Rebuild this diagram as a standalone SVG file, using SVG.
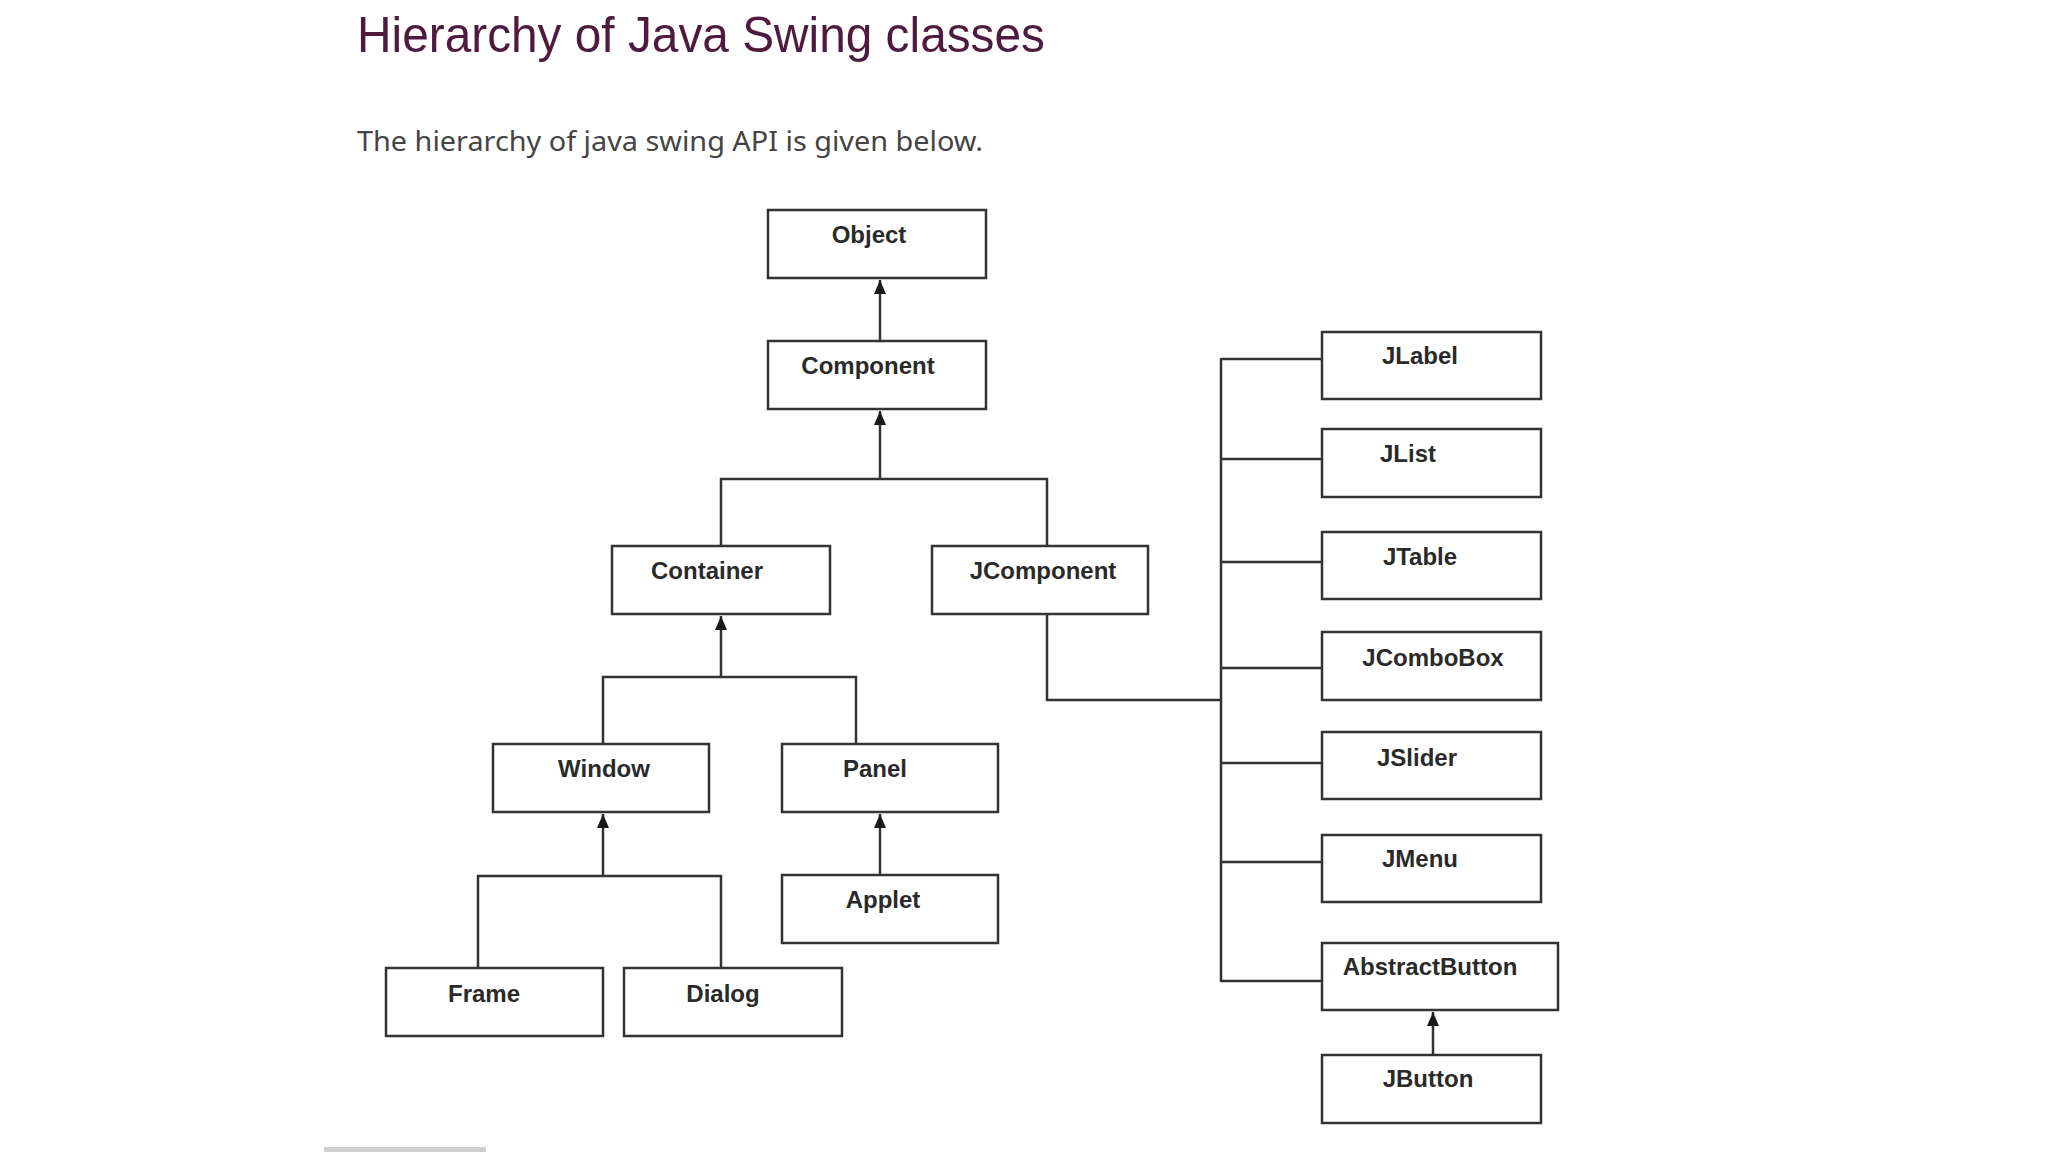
<svg xmlns="http://www.w3.org/2000/svg" width="2048" height="1152" viewBox="0 0 2048 1152">
<style>
.box{fill:#ffffff;stroke:#333333;stroke-width:2.5}
.lbl{font-family:"Liberation Sans",Arial,sans-serif;font-weight:bold;font-size:24px;fill:#2a2a2a;text-anchor:middle}
.ln{fill:none;stroke:#333333;stroke-width:2.5}
.title{font-family:"Liberation Sans",Arial,sans-serif;font-size:50px;fill:#4e1a3e}
.sub{font-family:"Noto Sans","Open Sans",sans-serif;font-size:27px;fill:#444444}
</style>
<defs>
<marker id="arr" markerWidth="14" markerHeight="12" refX="14" refY="6" orient="auto" markerUnits="userSpaceOnUse" viewBox="0 0 14 12">
<path d="M0,0 L14,6 L0,12 Z" fill="#1a1a1a"/>
</marker>
</defs>
<rect x="0" y="0" width="2048" height="1152" fill="#ffffff"/>
<text class="title" x="357" y="52" textLength="688" lengthAdjust="spacingAndGlyphs">Hierarchy of Java Swing classes</text>
<text class="sub" x="357" y="151" textLength="626" lengthAdjust="spacingAndGlyphs">The hierarchy of java swing API is given below.</text>

<g id="connectors">
<line class="ln" x1="880" y1="341" x2="880" y2="280" marker-end="url(#arr)"/>
<polyline class="ln" points="721,546 721,479 1047,479 1047,546"/>
<line class="ln" x1="880" y1="479" x2="880" y2="411" marker-end="url(#arr)"/>
<polyline class="ln" points="603,744 603,677 856,677 856,744"/>
<line class="ln" x1="721" y1="677" x2="721" y2="616" marker-end="url(#arr)"/>
<polyline class="ln" points="478,968 478,876 721,876 721,968"/>
<line class="ln" x1="603" y1="876" x2="603" y2="814" marker-end="url(#arr)"/>
<line class="ln" x1="880" y1="875" x2="880" y2="814" marker-end="url(#arr)"/>
<polyline class="ln" points="1047,614 1047,700 1221,700"/>
<line class="ln" x1="1221" y1="358" x2="1221" y2="982"/>
<line class="ln" x1="1221" y1="359" x2="1322" y2="359"/>
<line class="ln" x1="1221" y1="459" x2="1322" y2="459"/>
<line class="ln" x1="1221" y1="562" x2="1322" y2="562"/>
<line class="ln" x1="1221" y1="668" x2="1322" y2="668"/>
<line class="ln" x1="1221" y1="763" x2="1322" y2="763"/>
<line class="ln" x1="1221" y1="862" x2="1322" y2="862"/>
<line class="ln" x1="1221" y1="981" x2="1322" y2="981"/>
<line class="ln" x1="1433" y1="1055" x2="1433" y2="1012" marker-end="url(#arr)"/>
</g>

<g id="node-object"><rect class="box" x="768" y="210" width="218" height="68"/><text class="lbl" x="869" y="243">Object</text></g>
<g id="node-component"><rect class="box" x="768" y="341" width="218" height="68"/><text class="lbl" x="868" y="374">Component</text></g>
<g id="node-container"><rect class="box" x="612" y="546" width="218" height="68"/><text class="lbl" x="707" y="579">Container</text></g>
<g id="node-jcomponent"><rect class="box" x="932" y="546" width="216" height="68"/><text class="lbl" x="1043" y="579">JComponent</text></g>
<g id="node-window"><rect class="box" x="493" y="744" width="216" height="68"/><text class="lbl" x="604" y="777">Window</text></g>
<g id="node-panel"><rect class="box" x="782" y="744" width="216" height="68"/><text class="lbl" x="875" y="777">Panel</text></g>
<g id="node-applet"><rect class="box" x="782" y="875" width="216" height="68"/><text class="lbl" x="883" y="908">Applet</text></g>
<g id="node-frame"><rect class="box" x="386" y="968" width="217" height="68"/><text class="lbl" x="484" y="1002">Frame</text></g>
<g id="node-dialog"><rect class="box" x="624" y="968" width="218" height="68"/><text class="lbl" x="723" y="1002">Dialog</text></g>
<g id="node-jlabel"><rect class="box" x="1322" y="332" width="219" height="67"/><text class="lbl" x="1420" y="364">JLabel</text></g>
<g id="node-jlist"><rect class="box" x="1322" y="429" width="219" height="68"/><text class="lbl" x="1408" y="462">JList</text></g>
<g id="node-jtable"><rect class="box" x="1322" y="532" width="219" height="67"/><text class="lbl" x="1420" y="565">JTable</text></g>
<g id="node-jcombobox"><rect class="box" x="1322" y="632" width="219" height="68"/><text class="lbl" x="1433" y="666">JComboBox</text></g>
<g id="node-jslider"><rect class="box" x="1322" y="732" width="219" height="67"/><text class="lbl" x="1417" y="766">JSlider</text></g>
<g id="node-jmenu"><rect class="box" x="1322" y="835" width="219" height="67"/><text class="lbl" x="1420" y="867">JMenu</text></g>
<g id="node-abstractbutton"><rect class="box" x="1322" y="943" width="236" height="67"/><text class="lbl" x="1430" y="975">AbstractButton</text></g>
<g id="node-jbutton"><rect class="box" x="1322" y="1055" width="219" height="68"/><text class="lbl" x="1428" y="1087">JButton</text></g>

<rect x="324" y="1147" width="162" height="5" fill="#cfcfcf"/>
</svg>
